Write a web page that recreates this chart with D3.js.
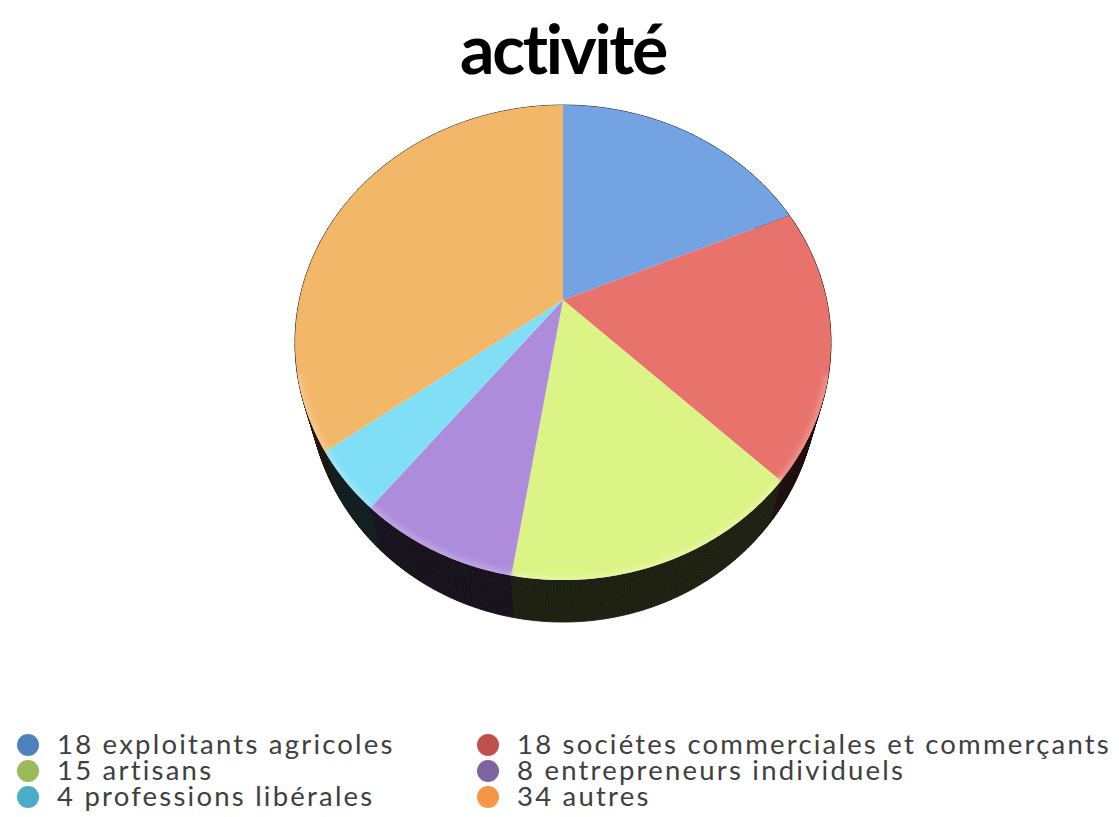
<!DOCTYPE html>
<html>
<head>
<meta charset="utf-8">
<script src="https://cdn.jsdelivr.net/npm/d3@7"></script>
<style>
  html, body { margin: 0; padding: 0; background: #ffffff; }
  svg { display: block; }
</style>
</head>
<body>
<svg id="chart" width="1119" height="817"></svg>
<script>
// ---- data ----
const title = "activité";
const categories = ["exploitants agricoles", "sociétes commerciales et commerçants", "artisans",
                    "entrepreneurs individuels", "professions libérales", "autres"];
const values = [18, 18, 15, 8, 4, 34];
const sliceColors = ["#74a3e4", "#e8736c", "#dcf386", "#ad8cdb", "#80dff6", "#f3b76a"];
const legendColors = ["#4f81bd", "#c0504d", "#9bbb59", "#8064a2", "#4bacc6", "#f79646"];

// ---- setup ----
const svg = d3.select("#chart");
const defs = svg.append("defs");

// perspective camera for the top face of the pie
const cx = 563, cy = 300;          // projected centre of the top face
const elev = 60.7 * Math.PI / 180; // camera elevation
const dist = 2.732;                // camera distance (in radii)
const focal = 720.2;               // focal length
// side wall: screen-space extrusion
const wallDrop = 42, wallShrink = 0.95;

function project(t) {
  const X = Math.sin(t), Y = Math.cos(t);
  const w = Y * Math.cos(elev) + dist;
  const v = Y * Math.sin(elev);
  return [cx + focal * X / w, cy - focal * v / w];
}
function projectBottom(t) {
  const p = project(t);
  return [cx + wallShrink * (p[0] - cx), p[1] + wallDrop];
}

const pie = d3.pie().sort(null).startAngle(0).endAngle(2 * Math.PI);
const arcs = pie(values);
const step = Math.PI / 360;

function arcPoints(a0, a1) {
  const n = Math.max(2, Math.ceil((a1 - a0) / step));
  const angle = d3.scaleLinear().domain([0, n]).range([a0, a1]);
  return d3.range(n + 1).map(i => project(angle(i)));
}
const line = d3.line();

// ---- side walls (small segments, painter's order: back to front) ----
const segs = [];
arcs.forEach((a, i) => {
  const n = Math.max(2, Math.ceil((a.endAngle - a.startAngle) / step));
  const angle = d3.scaleLinear().domain([0, n]).range([a.startAngle, a.endAngle]);
  for (let k = 0; k < n; k++) {
    const t0 = angle(k), t1 = angle(k + 1);
    segs.push({ i, t0, t1, d: -Math.cos((t0 + t1) / 2) });
  }
});
segs.sort((p, q) => p.d - q.d);

const wallColor = i => d3.interpolateRgb(sliceColors[i], "#000")(0.87);
svg.append("g").selectAll("path.side").data(segs).join("path")
  .attr("class", "side")
  .attr("d", s => line([project(s.t0), project(s.t1), projectBottom(s.t1), projectBottom(s.t0)]) + "Z")
  .attr("fill", s => wallColor(s.i))
  .attr("stroke", s => wallColor(s.i))
  .attr("stroke-width", 0.8);

// ---- top face ----
svg.append("g").selectAll("path.top").data(arcs).join("path")
  .attr("class", "top")
  .attr("d", a => line([[cx, cy]].concat(arcPoints(a.startAngle, a.endAngle))) + "Z")
  .attr("fill", (d, i) => sliceColors[i]);

// soft lighter bevel along the front rim
defs.append("clipPath").attr("id", "topClip")
  .append("path")
  .attr("d", line(arcPoints(0, 2 * Math.PI)) + "Z");
defs.append("filter").attr("id", "soft").attr("x", "-10%").attr("y", "-10%")
  .attr("width", "120%").attr("height", "120%")
  .append("feGaussianBlur").attr("stdDeviation", 2.5);

const rimG = svg.append("g").attr("clip-path", "url(#topClip)").attr("filter", "url(#soft)");
arcs.forEach((a, i) => {
  const lo = Math.max(a.startAngle, Math.PI * 0.6);
  const hi = Math.min(a.endAngle, Math.PI * 1.4);
  if (hi > lo) {
    rimG.append("path")
      .attr("d", line(arcPoints(lo, hi)))
      .attr("fill", "none")
      .attr("stroke", d3.interpolateRgb(sliceColors[i], "#ffffff")(0.22))
      .attr("stroke-width", 8);
  }
});

// ---- title ----
const titleText = svg.append("text")
  .attr("x", cx).attr("y", 74)
  .attr("text-anchor", "middle")
  .attr("font-family", "Lato, 'Open Sans', sans-serif")
  .attr("font-weight", 700)
  .attr("font-size", 68)
  .attr("fill", "#000")
  .text(title);
{
  const w = titleText.node().getComputedTextLength();
  const n = title.length;
  titleText.attr("letter-spacing", (207 - w) / n);
}

// ---- legend ----
const colX = [28, 488], rowY = [745, 771, 797];
const legend = svg.append("g").selectAll("g").data(values).join("g")
  .attr("transform", (d, i) => `translate(${colX[i % 2]},${rowY[Math.floor(i / 2)]})`);
legend.append("circle").attr("r", 11).attr("fill", (d, i) => legendColors[i]);
const labels = legend.append("text")
  .attr("x", 29).attr("y", 9)
  .attr("font-family", "Lato, 'Open Sans', sans-serif")
  .attr("font-size", 27.5)
  .attr("fill", "#404040")
  .text((d, i) => `${d} ${categories[i]}`);
// uniform letter spacing so the longest label spans as in the reference
{
  const longest = labels.filter((d, i) => i === 1);
  const lw = longest.node().getComputedTextLength();
  const n = longest.text().length;
  labels.attr("letter-spacing", (594 - lw) / n);
}
</script>
</body>
</html>
